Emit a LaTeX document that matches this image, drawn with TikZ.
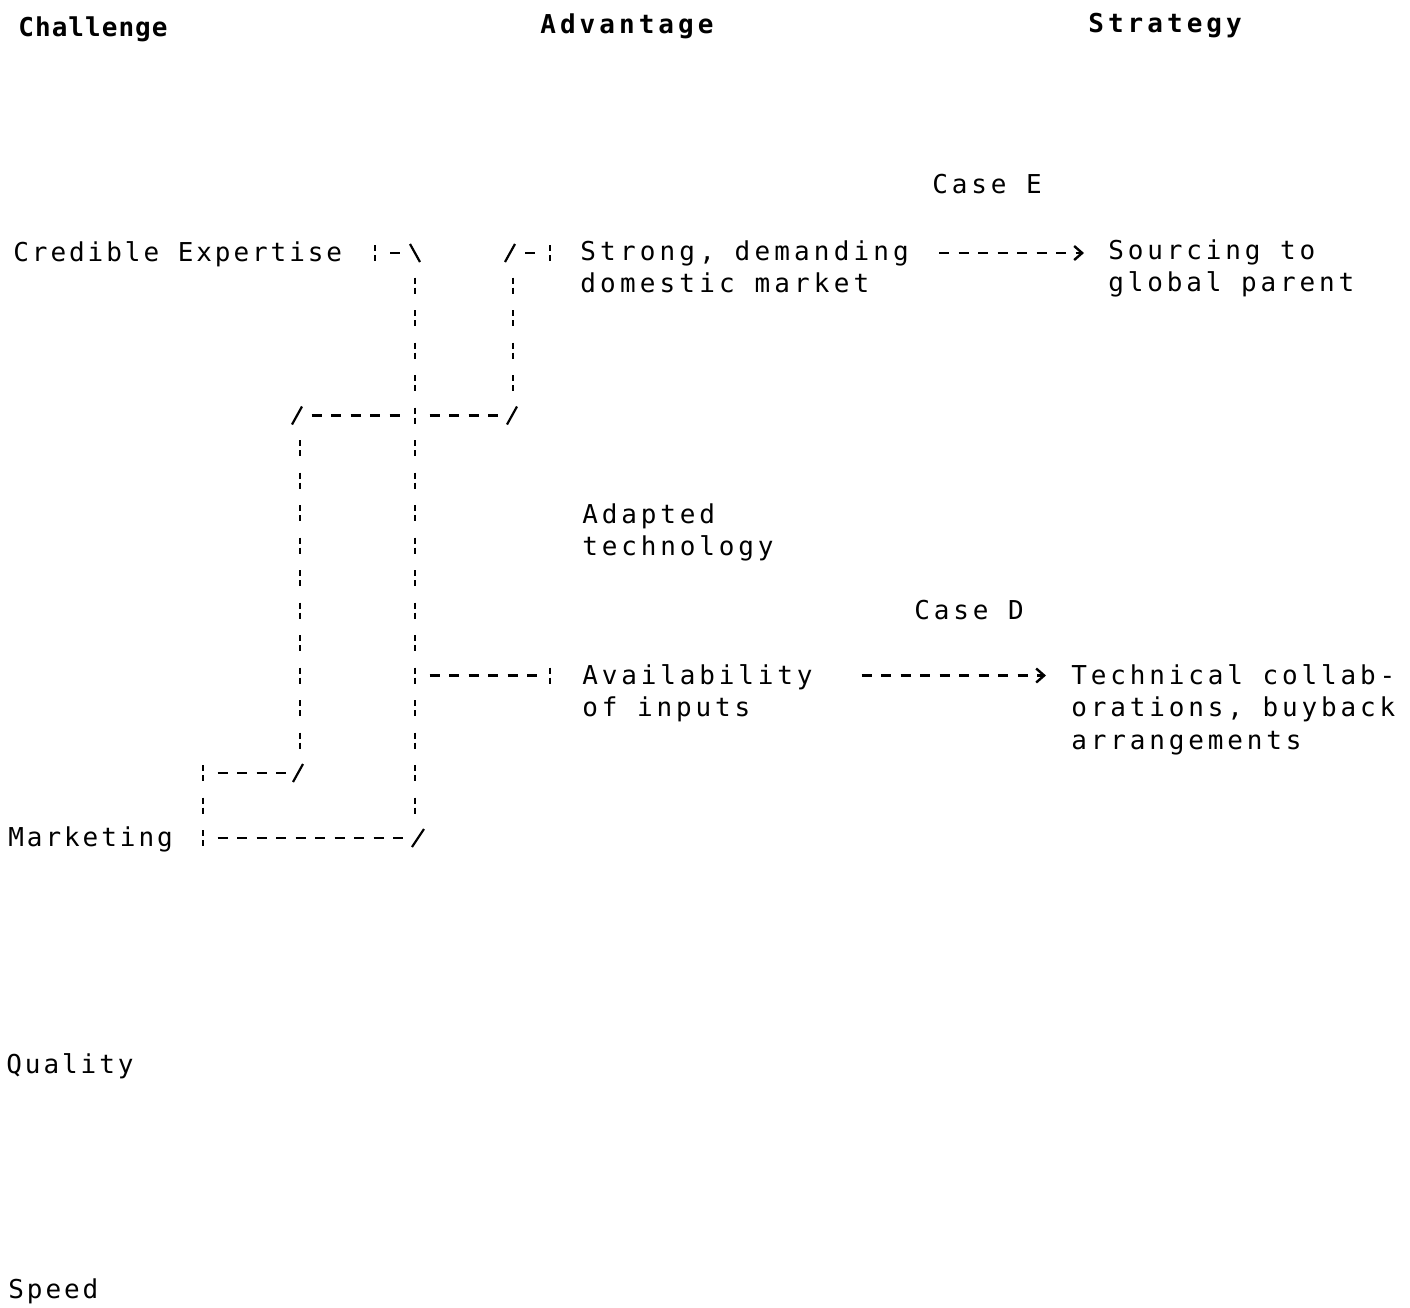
\documentclass[tikz,border=0pt]{standalone}
\usepackage{fontspec}
\usetikzlibrary{arrows.meta}
\newfontfamily\monoL[LetterSpace=11.3]{DejaVu Sans Mono}
\newfontfamily\monoR[LetterSpace=14.8]{DejaVu Sans Mono}
\newfontfamily\monoS[LetterSpace=16]{DejaVu Sans Mono}
\newfontfamily\monoC[LetterSpace=4]{DejaVu Sans Mono}
\newfontfamily\monoH[LetterSpace=15.5]{DejaVu Sans Mono}
\begin{document}
\begin{tikzpicture}[x=0.5pt,y=-0.5pt,
  lbl/.style={anchor=base west, inner sep=0pt, align=left,
    font=\monoR\fontsize{13pt}{16.25pt}\selectfont},
  lblS/.style={lbl, font=\monoS\fontsize{13pt}{16.25pt}\selectfont},
  lblL/.style={lbl, font=\monoL\fontsize{13pt}{16.25pt}\selectfont},
  head/.style={lbl, font=\monoH\bfseries\fontsize{13pt}{16.25pt}\selectfont},
  headC/.style={lbl, font=\monoC\bfseries\fontsize{13pt}{16.25pt}\selectfont},
  hd/.style={line width=1.2pt, dash pattern=on 5pt off 4.75pt},
  vd/.style={line width=1.2pt, dash pattern=on 3pt off 2pt on 3pt off 8.25pt},
  sl/.style={line width=1.1pt},
  arr/.style={hd, -{Straight Barb[length=4pt,width=7pt]}}]
\useasboundingbox (0,0) rectangle (1410,1308);

% headings
\node[headC] (hc) at (18,36) {Challenge};
\node[head] (ha) at (540,33) {Advantage};
\node[head] (hs) at (1088,32) {Strategy};

% challenge column
\node[lblL] (ce) at (13,261) {Credible Expertise};
\node[lblL] (mk) at (8,846) {Marketing};
\node[lblL] (ql) at (6,1073) {Quality};
\node[lblL] (sp) at (8,1298) {Speed};

% advantage column (base anchor = last line baseline)
\node[lblS] (sd) at (580,292.5) {Strong, demanding\\domestic market};
\node[lbl] (at) at (582,555.5) {Adapted\\technology};
\node[lbl] (av) at (582,716.5) {Availability\\of inputs};

% strategy column
\node[lbl] (cE) at (932,193) {Case E};
\node[lbl] (sg) at (1108,291.5) {Sourcing to\\global parent};
\node[lbl] (cD) at (914,619) {Case D};
\node[lbl] (tc) at (1071,749) {Technical collab-\\orations, buyback\\arrangements};

% named junction coordinates
\coordinate (ceBarT) at (375,245); \coordinate (ceBarB) at (375,261);
\coordinate (ceD1) at (390,253);  \coordinate (ceD2) at (400,253);
\coordinate (c1T) at (415,277.5); \coordinate (c1B) at (415,813.5);
\coordinate (mkR1) at (217.5,838); \coordinate (mkR2) at (403.5,838);
\coordinate (mkBT) at (203,765);  \coordinate (mkBB) at (203,846);
\coordinate (avL1) at (429.5,675.5); \coordinate (avL2) at (537,675.5);
\coordinate (avBT) at (550,667.5); \coordinate (avBB) at (550,683.5);
\coordinate (r16a) at (217.5,773); \coordinate (r16b) at (286,773);
\coordinate (c2T) at (300,440);   \coordinate (c2B) at (300,748.5);
\coordinate (r5a) at (311.5,415.5); \coordinate (r5b) at (399.5,415.5);
\coordinate (r5c) at (429.5,415.5); \coordinate (r5d) at (498,415.5);
\coordinate (c3T) at (513,277.5); \coordinate (c3B) at (513,391);
\coordinate (sdD1) at (525,253);  \coordinate (sdD2) at (535,253);
\coordinate (sdBT) at (550,245);  \coordinate (sdBB) at (550,261);
\coordinate (e1s) at (939,253);   \coordinate (e1t) at (1084,253);
\coordinate (e2s) at (861.5,675.5); \coordinate (e2t) at (1046,675.5);

% net: Credible Expertise -> Availability of inputs / Marketing
\draw[vd] (ceBarT) -- (ceBarB);
\draw[hd] (ceD1) -- (ceD2);
\draw[sl] (410,244) -- (420,262);
\draw[vd] (c1T) -- (c1B);
\draw[sl] (412,847) -- (424,829);
\draw[hd] (mkR1) -- (mkR2);
\draw[vd] (mkBT) -- (mkBB);
\draw[hd] (avL1) -- (avL2);
\draw[vd] (avBT) -- (avBB);

% net: Marketing -> Strong, demanding domestic market
\draw[hd] (r16a) -- (r16b);
\draw[sl] (293,782) -- (303,764);
\draw[vd] (c2T) -- (c2B);
\draw[sl] (292,424.5) -- (302,406.5);
\draw[hd] (r5a) -- (r5b);
\draw[hd] (r5c) -- (r5d);
\draw[sl] (507,424.5) -- (517,406.5);
\draw[vd] (c3T) -- (c3B);
\draw[sl] (505,262) -- (515,244);
\draw[hd] (sdD1) -- (sdD2);
\draw[vd] (sdBT) -- (sdBB);

% arrows to strategies
\draw[arr] (e1s) -- (e1t);
\draw[arr] (e2s) -- (e2t);
\end{tikzpicture}
\end{document}
